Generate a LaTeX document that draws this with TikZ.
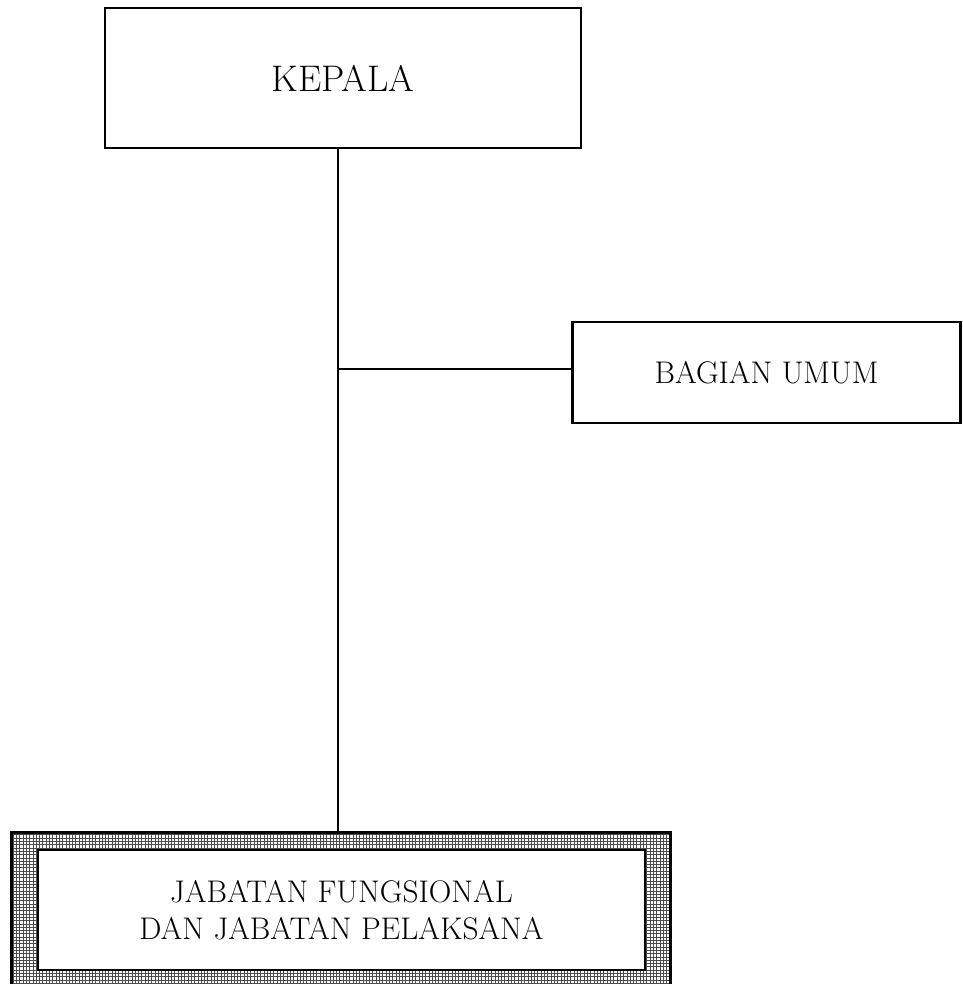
\documentclass[tikz,border=0pt]{standalone}
\usepackage{fontspec}
\begin{document}
\begin{tikzpicture}[x=1pt,y=-1pt,
  box/.style={draw, rectangle, line width=2.8pt, inner sep=0pt, align=center, fill=white},
  link/.style={line width=2.4pt},
  hatch/.style={line width=0.9pt, black!70}]
\useasboundingbox (0,0) rectangle (962,984);
\begin{scope}
\clip (0,0) rectangle (962,984);
% top box
\node[box, minimum width=476pt, minimum height=140pt, font=\fontsize{37}{44}\selectfont] (kepala) at (343,78) {KEPALA};
% right box
\node[box, minimum width=388pt, minimum height=101pt, font=\fontsize{31.3}{37}\selectfont] (bagian) at (766.5,372.5) {BAGIAN UMUM};
% outer hatched frame
\node[rectangle, inner sep=0pt, minimum width=658pt, minimum height=157pt] (frame) at (341,911.5) {};
\begin{scope}
\clip (frame.south west) rectangle (frame.north east);
\draw[hatch, step=3.3pt] (frame.south west) grid (frame.north east);
\end{scope}
\draw[line width=3pt] (frame.south west) rectangle (frame.north east);
% inner box
\node[box, minimum width=607pt, minimum height=120pt, font=\fontsize{31.3}{37}\selectfont] (jab) at (341.5,910) {JABATAN FUNGSIONAL\\DAN JABATAN PELAKSANA};
% connectors
\coordinate (spine) at (338,0);
\coordinate (tee) at ([yshift=3.5pt]bagian.west);
\draw[link] (kepala.south -| spine) -- (frame.north -| spine);
\draw[link] (spine |- tee) -- (tee);
\end{scope}
\end{tikzpicture}
\end{document}
